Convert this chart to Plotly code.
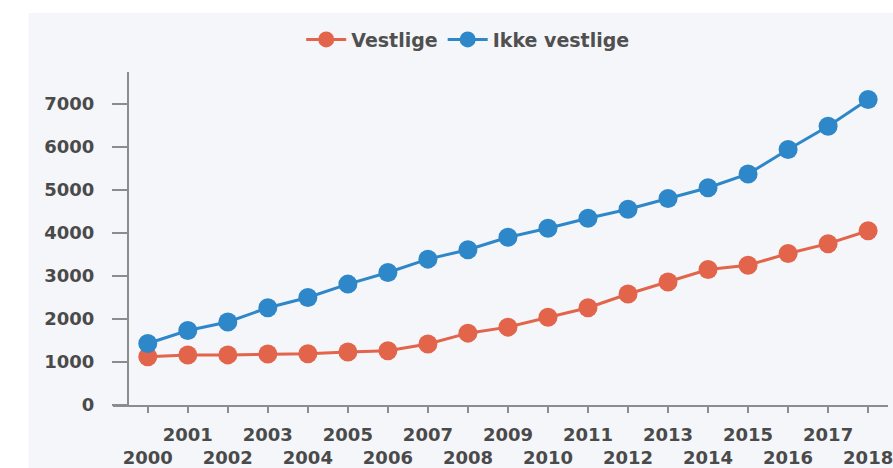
import plotly.graph_objects as go

years = list(range(2000, 2019))
vestlige = [1120, 1160, 1165, 1185, 1190, 1230, 1260, 1420, 1670, 1810, 2040, 2260, 2580, 2860, 3150, 3250, 3520, 3750, 4050]
ikke_vestlige = [1430, 1730, 1930, 2260, 2500, 2810, 3080, 3390, 3610, 3900, 4110, 4340, 4550, 4800, 5050, 5370, 5940, 6480, 7100]
y_ticks = [0, 1000, 2000, 3000, 4000, 5000, 6000, 7000]
x_ticktext = [str(y) if y % 2 == 1 else "\u00a0<br>" + str(y) for y in years]

RED = "#e2644b"
BLUE = "#2d87c8"
AXIS = "#8c8c8c"
TEXT = "#4a4a4a"
FONT = "DejaVu Sans"

fig = go.Figure()
fig.add_trace(go.Scatter(x=years, y=vestlige, name="Vestlige", mode="lines+markers",
                         line=dict(color=RED, width=3), marker=dict(color=RED, size=19)))
fig.add_trace(go.Scatter(x=years, y=ikke_vestlige, name="Ikke vestlige", mode="lines+markers",
                         line=dict(color=BLUE, width=3), marker=dict(color=BLUE, size=19)))

L, R, T, B = 113, 0, 72, 57
W, H = 893, 468
pw = W - L - R
ph = H - T - B

fig.update_layout(
    width=W, height=H,
    margin=dict(l=L, r=R, t=T, b=B, pad=0),
    paper_bgcolor="white",
    plot_bgcolor="rgba(0,0,0,0)",
    font=dict(family=FONT, color=TEXT),
    showlegend=True,
    legend=dict(orientation="h", x=(470 - L) / pw, xanchor="center", y=(H - B - 39) / ph, yanchor="middle",
                font=dict(family=FONT, size=19, color="#505050", weight="bold"), bgcolor="rgba(0,0,0,0)",
                itemwidth=40, tracegroupgap=0),
    shapes=[dict(type="rect", xref="paper", yref="paper", layer="below",
                 x0=(28 - L) / pw, x1=1.05, y0=-0.3, y1=(H - B - 12) / ph,
                 fillcolor="#f5f6f9", line=dict(width=0))],
    xaxis=dict(range=[2000 - 35 / 40.28, 2018 + 20 / 40.28], tickmode="array", tickvals=years,
               ticktext=x_ticktext, showline=True, linecolor=AXIS, linewidth=2,
               ticks="outside", ticklen=6, tickwidth=2, tickcolor=AXIS, showgrid=False, zeroline=False,
               ticklabelstandoff=6, ticklabeloverflow="allow",
               tickfont=dict(family=FONT, size=18, color=TEXT, weight="bold"), tickangle=0),
    yaxis=dict(range=[0, 7740], tickmode="array", tickvals=y_ticks, anchor="free", position=15 / pw,
               showline=True, linecolor=AXIS, linewidth=2, ticks="outside", ticklen=15, tickwidth=2,
               tickcolor=AXIS, showgrid=False, zeroline=False, ticklabelstandoff=14,
               tickfont=dict(family=FONT, size=18, color=TEXT, weight="bold")),
)

fig.write_html("out.html", config={"displayModeBar": False},
               post_script="document.body.style.margin='0';document.body.style.overflow='hidden';")
